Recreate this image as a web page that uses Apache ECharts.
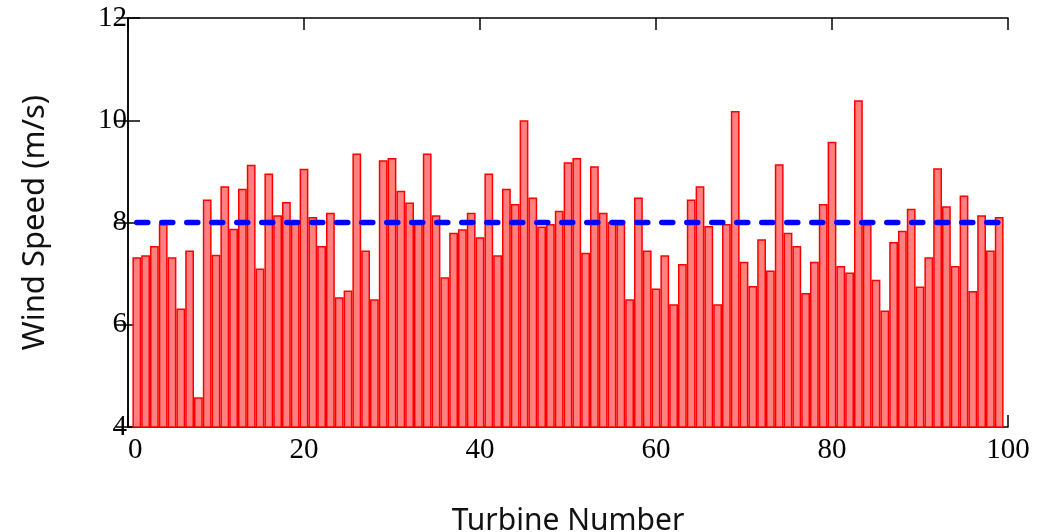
<!DOCTYPE html>
<html>
<head>
<meta charset="utf-8">
<script src="https://cdn.jsdelivr.net/npm/echarts@6/dist/echarts.min.js"></script>
<style>
html,body{margin:0;padding:0;background:#fff;}
#chart{width:1048px;height:532px;}
</style>
</head>
<body>
<div id="chart"></div>
<script>
// Turbine numbers 1..99 and wind speed (m/s)
const turbines = [1,2,3,4,5,6,7,8,9,10,11,12,13,14,15,16,17,18,19,20,21,22,23,24,25,26,27,28,29,30,31,32,33,34,35,36,37,38,39,40,41,42,43,44,45,46,47,48,49,50,51,52,53,54,55,56,57,58,59,60,61,62,63,64,65,66,67,68,69,70,71,72,73,74,75,76,77,78,79,80,81,82,83,84,85,86,87,88,89,90,91,92,93,94,95,96,97,98,99];
const windSpeed = [
  7.32,7.36,7.54,7.97,7.32,6.32,7.45,4.58,8.45,7.37,
  8.71,7.88,8.66,9.13,7.10,8.96,8.14,8.40,8.05,9.05,
  8.11,7.54,8.19,6.54,6.67,9.35,7.45,6.50,9.22,9.26,
  8.62,8.39,8.01,9.35,8.14,6.93,7.80,7.87,8.19,7.71,
  8.96,7.36,8.66,8.36,10.00,8.49,7.92,7.97,8.23,9.18,
  9.26,7.41,9.10,8.19,8.01,7.97,6.50,8.49,7.45,6.71,
  7.36,6.40,7.19,8.45,8.71,7.93,6.40,7.97,10.18,7.23,
  6.76,7.67,7.06,9.14,7.80,7.54,6.62,7.23,8.36,9.58,
  7.15,7.02,10.39,7.97,6.88,6.28,7.62,7.84,8.27,6.75,
  7.32,9.06,8.32,7.15,8.53,6.66,8.14,7.45,8.11
];
const meanSpeed = 8;
const meanRange = [1, 99];
const xTicks = [0, 20, 40, 60, 80, 100];
const yTicks = [4, 6, 8, 10, 12];

const meanData = meanRange.map(x => [x, meanSpeed]);

const W = 1048, gridLeft = 128, gridRight = 40, gridTop = 18, gridBottom = 105;
const xMin = xTicks[0], xMax = xTicks[xTicks.length - 1];
const yMin = yTicks[0], yMax = yTicks[yTicks.length - 1];
const unitPx = (W - gridLeft - gridRight) / (xMax - xMin);
// bars of turbines 1..99 cover x = 0.5 .. 99.5 on the frame's 0..100 axis
const barStart = turbines[0] - 0.5 - xMin;
const barEnd = xMax - (turbines[turbines.length - 1] + 0.5);

const chart = echarts.init(document.getElementById('chart'), null, {renderer: 'canvas'});
const frameLine = {show: true, lineStyle: {color: '#000', width: 1.5}};
const tickStyle = {show: true, inside: true, length: 12, lineStyle: {color: '#000', width: 1.5}};
const tickLabelFont = {fontFamily: '"Liberation Serif", serif', fontSize: 29, color: '#000'};
chart.setOption({
  animation: false,
  backgroundColor: '#fff',
  grid: [
    {left: gridLeft, right: gridRight, top: gridTop, bottom: gridBottom, containLabel: false, outerBoundsMode: 'none'},
    {left: gridLeft + barStart * unitPx, right: gridRight + barEnd * unitPx, top: gridTop, bottom: gridBottom, containLabel: false, outerBoundsMode: 'none'}
  ],
  xAxis: [
    {
      type: 'value', gridIndex: 0, position: 'bottom', min: xMin, max: xMax, interval: 20,
      axisLine: frameLine, axisTick: tickStyle,
      axisLabel: Object.assign({margin: 9, showMinLabel: true, showMaxLabel: true, alignMinLabel: 'left'}, tickLabelFont),
      splitLine: {show: false},
      name: 'Turbine Number', nameLocation: 'middle', nameGap: 79,
      nameTextStyle: {fontFamily: '"Noto Sans", sans-serif', fontSize: 30, color: '#111'}
    },
    {
      type: 'value', gridIndex: 0, position: 'top', min: xMin, max: xMax, interval: 20,
      axisLine: frameLine, axisTick: tickStyle,
      axisLabel: {show: false}, splitLine: {show: false}
    },
    {
      type: 'category', gridIndex: 1, data: turbines, boundaryGap: true, show: false
    }
  ],
  yAxis: [
    {
      type: 'value', gridIndex: 0, position: 'left', min: yMin, max: yMax, interval: 2,
      axisLine: frameLine, axisTick: tickStyle,
      axisLabel: Object.assign({margin: 1}, tickLabelFont),
      splitLine: {show: false},
      name: 'Wind Speed (m/s)', nameLocation: 'middle', nameGap: 77,
      nameTextStyle: {fontFamily: '"Noto Sans", sans-serif', fontSize: 31, color: '#111'}
    },
    {
      type: 'value', gridIndex: 0, position: 'right', min: yMin, max: yMax, interval: 2,
      axisLine: frameLine, axisTick: tickStyle,
      axisLabel: {show: false}, splitLine: {show: false}
    },
    {
      type: 'value', gridIndex: 1, min: yMin, max: yMax, show: false
    }
  ],
  series: [
    {
      type: 'bar', xAxisIndex: 2, yAxisIndex: 2,
      data: windSpeed,
      barCategoryGap: '0%',
      itemStyle: {color: '#ff8080', borderColor: '#ff0000', borderWidth: 1.5},
      z: 2
    },
    {
      type: 'line', xAxisIndex: 0, yAxisIndex: 0,
      data: meanData,
      symbol: 'none',
      lineStyle: {color: '#0000ff', width: 5.5, type: [11, 14], cap: 'round'},
      z: 5
    }
  ]
});
</script>
</body>
</html>
